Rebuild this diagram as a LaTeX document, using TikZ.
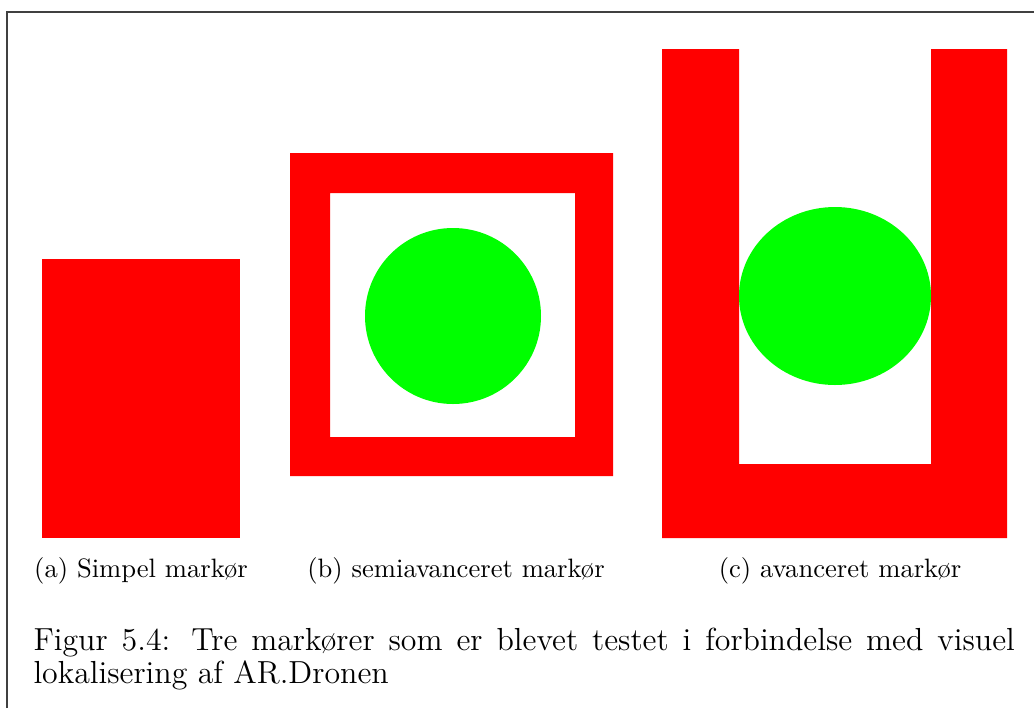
\documentclass[tikz,border=0pt]{standalone}
\usepackage{tikz}
\usetikzlibrary{positioning}

\definecolor{markred}{RGB}{255,0,0}
\definecolor{markgreen}{RGB}{0,255,0}

\begin{document}
\begin{tikzpicture}[x=0.376pt, y=-0.376pt,
        redpart/.style={fill=markred},
        greenpart/.style={fill=markgreen},
        subcap/.style={font=\fontsize{10}{12}\selectfont, anchor=base, inner sep=0pt},
        figcap/.style={font=\fontsize{12}{12.6}\selectfont, anchor=north west, inner sep=0pt,
            text width=369pt, align=justify}]
        \useasboundingbox (0,0) rectangle (1034,708);

        % Frame
        \draw[black!75, line width=0.6pt] (7,708) -- (7,12) -- (1034,12);

        % (a) Simple marker
        \fill[redpart] (42,259) rectangle (240,538);

        % (b) Semi-advanced marker
        \fill[redpart, even odd rule] (290,153) rectangle (613,476) (330,193) rectangle (575,437);
        \fill[greenpart] (453,316) circle[radius=88];

        % (c) Advanced marker
        \fill[redpart] (662,49) -- (739,49) -- (739,464) -- (931,464) -- (931,49)
            -- (1007,49) -- (1007,538) -- (662,538) -- cycle;
        \fill[greenpart] (835,296) ellipse[x radius=96, y radius=89];

        % Subcaptions
        \node (capa) [subcap] at (141,577) {(a) Simpel markør};
        \node (capb) [subcap] at (456,577) {(b) semiavanceret markør};
        \node (capc) [subcap] at (840,577) {(c) avanceret markør};

        % Figure caption
        \node (figcaption) [figcap] at (33,627) {Figur 5.4: Tre markører som er blevet testet i forbindelse med visuel\linebreak lokalisering af AR.Dronen};
    \end{tikzpicture}
\end{document}
